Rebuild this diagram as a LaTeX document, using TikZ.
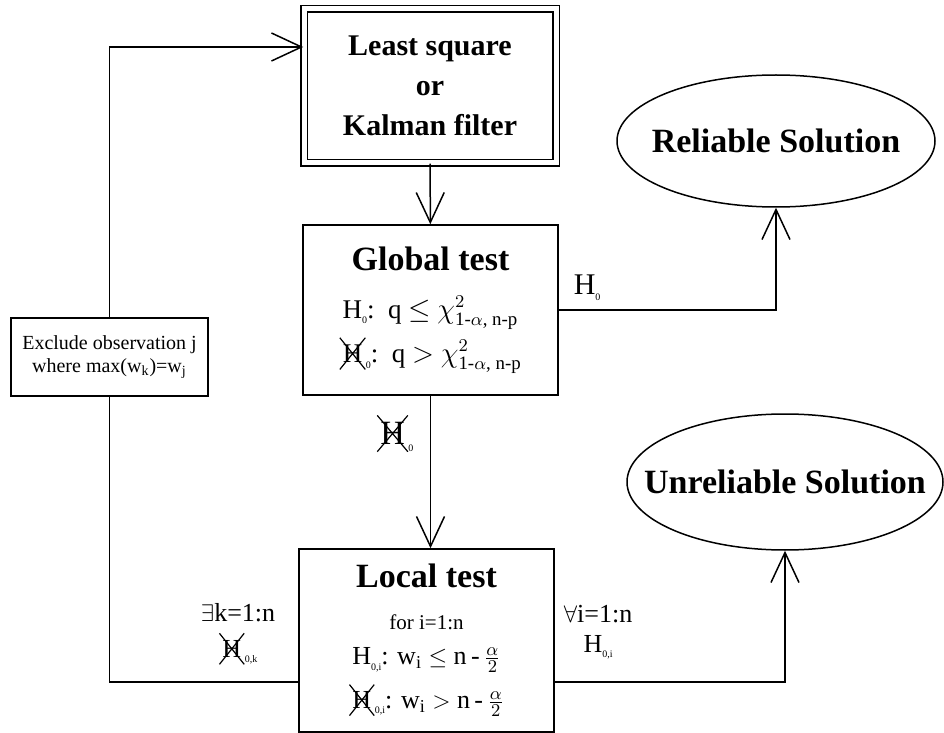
\documentclass[tikz,border=0pt]{standalone}
\usepackage{amsmath}
\usepackage{fontspec}
\setmainfont{Liberation Serif}
\usetikzlibrary{positioning,arrows.meta,shapes.geometric}

\tikzset{
  box/.style={draw, line width=0.75pt, align=center, inner sep=2pt},
  dbox/.style={box, double, double distance=2.5pt},
  sol/.style={ellipse, draw, line width=0.75pt, inner xsep=-18pt, inner ysep=0pt},
  flow/.style={line width=0.75pt, -{Straight Barb[length=15pt,width=14pt,line width=0.75pt]}},
  link/.style={line width=0.75pt},
}

\newcommand{\sub}[1]{\raisebox{-0.45ex}{\fontsize{5}{5}\selectfont #1}}
\newcommand{\crossH}{\tikz[baseline=(h.base)]{\node[shape=rectangle, inner sep=0pt, outer sep=0pt, minimum width=0pt, minimum height=0pt, anchor=center] (h) {H};
  \draw[line width=0.6pt] ([shift={(-1.5pt,-3.5pt)}]h.south west) -- ([shift={(1.5pt,3.5pt)}]h.north east)
    ([shift={(-1.5pt,3.5pt)}]h.north west) -- ([shift={(1.5pt,-3.5pt)}]h.south east);}}

\begin{document}
\begin{tikzpicture}[x=0.5pt, y=-0.5pt]
\useasboundingbox (0,0) rectangle (944,733);

	% boxes of the flow
	\node[dbox, minimum width=126pt, minimum height=77pt, font=\fontsize{15}{20}\selectfont\bfseries] (ls) at (430,86) {Least square\\or\\Kalman filter};

	\node[box, minimum width=127.5pt, minimum height=85pt, font=\fontsize{13.5}{16}\selectfont] (glob) at (430.5,310)
	{{\fontsize{17}{20}\selectfont\bfseries Global test}\\[8pt]
	 H\sub{0}:\enspace q $\leq$ $\chi^{2}_{\text{1-}\alpha\text{, n-p}}$\\[3pt]
	 \crossH\sub{0}:\enspace q $>$ $\chi^{2}_{\text{1-}\alpha\text{, n-p}}$};

	\node[box, minimum width=127.5pt, minimum height=91.5pt, font=\fontsize{13}{16}\selectfont] (loc) at (426.5,640.5)
	{{\fontsize{17}{20}\selectfont\bfseries Local test}\\[5pt]
	 {\fontsize{10.5}{12}\selectfont for i=1:n}\\[1.5pt]
	 H\sub{0,i}: w$_\text{i}$ $\leq$ n\,-\,$\frac{\alpha}{2}$\\[4.5pt]
	 \crossH\sub{0,i}: w$_\text{i}$ $>$ n\,-\,$\frac{\alpha}{2}$};

	\node[box, minimum width=98.5pt, minimum height=39pt, font=\fontsize{10}{11.5}\selectfont] (excl) at (109.5,357)
	{Exclude observation j\\where max(w$_\text{k}$)=w$_\text{j}$};

	% results
	\node[sol, minimum width=159pt, minimum height=66pt, font=\fontsize{17}{20}\selectfont\bfseries] (rel) at (776,141) {Reliable Solution};
	\node[sol, minimum width=158pt, minimum height=68pt, font=\fontsize{17}{20}\selectfont\bfseries] (unrel) at (785,482) {Unreliable Solution};

	\coordinate (lw) at ([yshift=-20.75pt]loc.west);
	\coordinate (le) at ([yshift=-20.75pt]loc.east);

	% connectors
	\draw[flow] (ls) -- (glob);
	\draw[flow] (glob.south) -- (glob.south |- loc.north);
	\draw[flow] (glob.east) -| (rel.south);
	\draw[flow] (le) -| (unrel.south);
	\draw[link] (lw) -| (excl.south);
	\draw[flow] (excl.north) |- ([yshift=19.5pt]ls.west);

	% labels on the connectors
	\node[above right=1pt and 4pt of glob.east, font=\fontsize{15}{17}\selectfont] (h0lab) {H\sub{0}};
	\node[below left=6pt and 5pt of glob.south, font=\fontsize{17}{19}\selectfont] (nh0lab) {\crossH\sub{0}};
	\node[above left=5pt and 8pt of lw, align=center, font=\fontsize{13}{15}\selectfont] (exlab) {{\large$\exists$}k=1:n\\[3pt]\crossH\sub{0,k}};
	\node[above right=8pt and 1pt of le, align=center, font=\fontsize{13}{15}\selectfont] (alllab) {{\large$\forall$}i=1:n\\H\sub{0,i}};

  \end{tikzpicture}
\end{document}
